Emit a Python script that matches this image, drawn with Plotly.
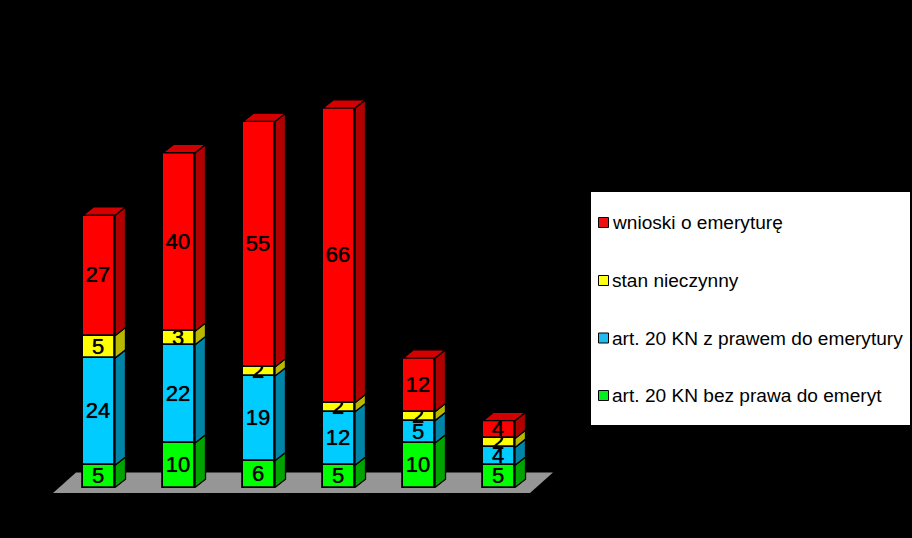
import plotly.graph_objects as go

positions = [0, 1, 2, 3, 4, 5]
series_names = ["art. 20 KN bez prawa do emeryt", "art. 20 KN z prawem do emerytury", "stan nieczynny", "wnioski o emeryturę"]
bez_prawa = [5, 10, 6, 5, 10, 5]
z_prawem = [24, 22, 19, 12, 5, 4]
nieczynny = [5, 3, 2, 2, 2, 2]
wnioski = [27, 40, 55, 66, 12, 4]
series_values = [bez_prawa, z_prawem, nieczynny, wnioski]
front_colors = ["#00ff00", "#00ccff", "#ffff00", "#ff0000"]
side_colors = ["#00a400", "#0084a8", "#b8b800", "#b00000"]
top_color = "#d40000"
legend_colors = ["#00ee22", "#22bbee", "#ffff11", "#ee1111"]

W, H = 912, 538
PX_X, PX_Y = 80.0, 4.465
X0_PX, Y0_PX = 99.0, 487.6
BAR_W = 0.4
DX, DY = 10.5 / PX_X, 8.3 / PX_Y
THICK = "0 0 0.7px #000000"

fig = go.Figure()
bases = [0] * len(positions)
for name, vals, fc, sc in zip(series_names, series_values, front_colors, side_colors):
    sx, sy = [], []
    for x, b, v in zip(positions, bases, vals):
        r = x + BAR_W / 2
        sx += [r, r + DX, r + DX, r, r, None]
        sy += [b, b + DY, b + v + DY, b + v, b, None]
    fig.add_trace(go.Scatter(x=sx, y=sy, mode="lines", fill="toself", fillcolor=sc,
                             line=dict(color="#000000", width=1.3), hoverinfo="skip", showlegend=False))
    fig.add_trace(go.Bar(x=positions, y=vals, base=bases, name=name, width=BAR_W,
                         marker=dict(color=fc, line=dict(color="#000000", width=1.8)),
                         text=vals, textposition="inside", insidetextanchor="middle",
                         textangle=0, constraintext="none",
                         insidetextfont=dict(family="Liberation Sans", size=22, color="#000000", shadow=THICK),
                         showlegend=False))
    bases = [b + v for b, v in zip(bases, vals)]

tx, ty = [], []
for x, t in zip(positions, bases):
    l, r = x - BAR_W / 2, x + BAR_W / 2
    tx += [l, l + DX, r + DX, r, l, None]
    ty += [t, t + DY, t + DY, t, t, None]
fig.add_trace(go.Scatter(x=tx, y=ty, mode="lines", fill="toself", fillcolor=top_color,
                         line=dict(color="#000000", width=1.3), hoverinfo="skip", showlegend=False))

# floor of the 3D chart
fx = [(p - X0_PX) / PX_X for p in (53, 76, 553, 530)]
fy = [(Y0_PX - p) / PX_Y for p in (493, 472.5, 472.5, 493)]
shapes = [dict(type="path", layer="below", xref="x", yref="y",
               path="M" + " L".join(f"{a},{b}" for a, b in zip(fx, fy)) + " Z",
               fillcolor="#969696", line=dict(width=0))]

# legend panel
shapes.append(dict(type="rect", xref="paper", yref="paper", x0=591 / W, x1=910 / W,
                   y0=1 - 425 / H, y1=1 - 192 / H, fillcolor="#ffffff", line=dict(width=0), layer="above"))
annotations = []
legend_y = [395.5, 338, 280.5, 222.5]
for name, col, y in zip(series_names, legend_colors, legend_y):
    shapes.append(dict(type="rect", xref="paper", yref="paper", x0=598.5 / W, x1=608.5 / W,
                       y0=1 - (y + 5) / H, y1=1 - (y - 5) / H, fillcolor=col,
                       line=dict(color="#000000", width=1), layer="above"))
    annotations.append(dict(text=name, xref="paper", yref="paper", x=612 / W, y=1 - y / H,
                            xanchor="left", yanchor="middle", showarrow=False, align="left",
                            borderpad=0, borderwidth=0,
                            font=dict(family="Liberation Sans", size=19.1, color="#000000")))

fig.update_layout(
    width=W, height=H, autosize=False, barmode="overlay", bargap=0,
    margin=dict(l=0, r=0, t=0, b=0), paper_bgcolor="#000000", plot_bgcolor="#000000",
    showlegend=False, shapes=shapes, annotations=annotations,
    xaxis=dict(range=[-X0_PX / PX_X, (W - X0_PX) / PX_X], visible=False, fixedrange=True),
    yaxis=dict(range=[(Y0_PX - H) / PX_Y, Y0_PX / PX_Y], visible=False, fixedrange=True),
)
fig.write_html("out.html", config=dict(displayModeBar=False),
               post_script="document.documentElement.style.background='#000';document.body.style.margin='0';document.body.style.background='#000';document.body.style.overflow='hidden';")
